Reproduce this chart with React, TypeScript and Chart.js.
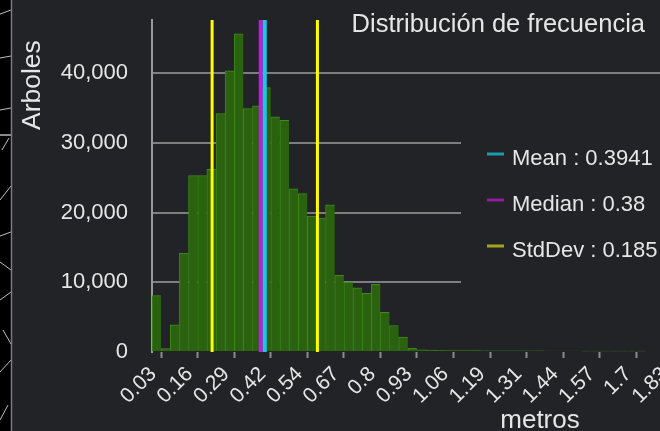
import React, { useEffect, useRef } from 'react';
import { Chart, registerables } from 'chart.js';

Chart.register(...registerables);

const FONT = "'Liberation Sans', Arial, sans-serif";
const BG = '#222327';
const TEXT = '#e6e6e6';

// Histogram bins (metros)
const binStart = -0.0021;
const binWidth = 0.0321;
const binCounts = [
  8100, 500, 3900, 14200, 25300, 25300, 26200, 34200, 40300, 45600,
  34900, 35300, 37900, 33700, 33200, 23400, 22700, 19500, 19200, 21100,
  11000, 10000, 9200, 8400, 9700, 5700, 3800, 2150, 520, 300,
  260, 240, 220, 210, 200, 190, 180, 170, 170, 160,
  160, 150, 150, 140, 140, 130, 130, 120, 120, 120,
  110, 110, 100, 100,
];

const xMin = binStart;
const xMax = 1.9937;
const xTickValues = [
  0.03, 0.1584, 0.2868, 0.4152, 0.5436, 0.672, 0.8004, 0.9288,
  1.0572, 1.1856, 1.314, 1.4424, 1.5708, 1.6992, 1.8276,
];
const xTickLabels = [
  '0.03', '0.16', '0.29', '0.42', '0.54', '0.67', '0.8', '0.93',
  '1.06', '1.19', '1.31', '1.44', '1.57', '1.7', '1.83',
];
const yTickValues = [0, 10000, 20000, 30000, 40000];
const yMax = 47600;

const statMean = 0.3941;
const statMedian = 0.38;
const statStdDev = 0.185;

const chartTitle = 'Distribución de frecuencia';
const yAxisTitle = 'Arboles';
const xAxisTitle = 'metros';
const legendLabels = ['Mean : 0.3941', 'Median : 0.38', 'StdDev : 0.185'];
const legendColors = ['#1e9cae', '#8e1e9e', '#a3a31c'];

const statLines = [
  { value: statMean - statStdDev, color: '#ffff00', width: 3 },
  { value: statMean + statStdDev, color: '#ffff00', width: 3 },
  { value: statMedian, color: '#c01ce0', width: 4 },
  { value: statMean, color: '#1cc6e6', width: 4 },
];

const decorPlugin = {
  id: 'decor',
  beforeDraw(chart: any) {
    const { ctx, width, height } = chart;
    ctx.save();
    ctx.fillStyle = BG;
    ctx.fillRect(0, 0, width, height);
    // map strip on the left
    ctx.fillStyle = '#000000';
    ctx.fillRect(0, 0, 11, height);
    ctx.strokeStyle = 'rgba(225,225,225,0.85)';
    ctx.lineWidth = 1;
    const segs = [
      [0, 14, 11, 10], [0, 58, 11, 56], [0, 110, 11, 108],
      [2, 150, 9, 138], [0, 200, 11, 186], [0, 236, 11, 232],
      [0, 262, 11, 270], [0, 300, 11, 292], [3, 330, 11, 344],
      [0, 372, 11, 360], [0, 420, 8, 405],
    ];
    for (const s of segs) {
      ctx.beginPath();
      ctx.moveTo(s[0], s[1]);
      ctx.lineTo(s[2], s[3]);
      ctx.stroke();
    }
    ctx.strokeStyle = '#8a8a8a';
    ctx.lineWidth = 2;
    ctx.beginPath();
    ctx.moveTo(0, 135);
    ctx.lineTo(11, 135);
    ctx.stroke();
    ctx.lineWidth = 1.5;
    ctx.strokeStyle = '#7c7c7c';
    ctx.beginPath();
    ctx.moveTo(11.5, 0);
    ctx.lineTo(11.5, height);
    ctx.stroke();
    ctx.restore();
  },
  afterDatasetsDraw(chart: any) {
    const { ctx, chartArea, scales } = chart;
    const xs = scales.x;
    ctx.save();
    for (const s of statLines) {
      const px = xs.getPixelForValue(s.value);
      ctx.strokeStyle = s.color;
      ctx.lineWidth = s.width;
      ctx.beginPath();
      ctx.moveTo(px, chartArea.top);
      ctx.lineTo(px, chartArea.bottom);
      ctx.stroke();
    }
    // legend panel
    ctx.fillStyle = BG;
    ctx.fillRect(461, 118, chart.width - 461, 174);
    ctx.font = `22px ${FONT}`;
    ctx.textBaseline = 'alphabetic';
    ctx.textAlign = 'left';
    legendLabels.forEach((label, i) => {
      const yy = 154 + i * 46;
      ctx.strokeStyle = legendColors[i];
      ctx.lineWidth = 3;
      ctx.beginPath();
      ctx.moveTo(487, yy);
      ctx.lineTo(504, yy);
      ctx.stroke();
      ctx.fillStyle = TEXT;
      ctx.fillText(label, 512, yy + 11);
    });
    // title
    ctx.font = `25.5px ${FONT}`;
    ctx.textAlign = 'right';
    ctx.fillText(chartTitle, 645, 32);
    // axis titles
    ctx.font = `26px ${FONT}`;
    ctx.textAlign = 'center';
    ctx.fillText(xAxisTitle, 540, 428);
    ctx.translate(40, 130);
    ctx.rotate(-Math.PI / 2);
    ctx.font = `26.5px ${FONT}`;
    ctx.textAlign = 'left';
    ctx.fillText(yAxisTitle, 0, 0);
    ctx.restore();
  },
};

export default function App() {
  const ref = useRef<HTMLCanvasElement | null>(null);
  useEffect(() => {
    const canvas = ref.current;
    if (!canvas) return;
    const chart = new Chart(canvas, {
      type: 'bar',
      data: {
        datasets: [
          {
            label: 'Arboles',
            data: binCounts.map((c, i) => ({ x: binStart + (i + 0.5) * binWidth, y: c })),
            backgroundColor: '#2b620f',
            borderColor: '#3f8a18',
            borderWidth: { left: 1, top: 1, right: 0, bottom: 0 },
            borderSkipped: false,
            barPercentage: 1,
            categoryPercentage: 1,
          } as any,
        ],
      },
      options: {
        animation: false,
        responsive: false,
        devicePixelRatio: 1,
        layout: { padding: { top: 20, left: 0, right: 0, bottom: 0 } },
        plugins: { legend: { display: false }, tooltip: { enabled: false }, title: { display: false } },
        scales: {
          x: {
            type: 'linear',
            min: xMin,
            max: xMax,
            offset: false,
            grid: {
              display: true,
              offset: false,
              drawOnChartArea: false,
              drawTicks: true,
              tickLength: 6,
              tickWidth: 2,
              tickColor: '#8c8c8c',
            },
            border: { display: false },
            ticks: {
              autoSkip: false,
              minRotation: 45,
              maxRotation: 45,
              color: TEXT,
              font: { family: FONT, size: 21 },
              padding: 4,
              labelOffset: -8,
              callback: (_v: any, i: number) => xTickLabels[i],
            },
            afterBuildTicks: (s: any) => {
              s.ticks = xTickValues.map((value) => ({ value }));
            },
            afterFit: (s: any) => {
              s.height = 79;
              s.paddingLeft = 0;
              s.paddingRight = 0;
            },
          } as any,
          y: {
            min: 0,
            max: yMax,
            grid: {
              color: (c: any) => (c.tick && c.tick.value === 0 ? 'rgba(0,0,0,0)' : '#7e7e7e'),
              lineWidth: 2,
              drawTicks: false,
            },
            border: { display: true, color: '#9a9a9a', width: 2 },
            ticks: {
              padding: 24,
              color: TEXT,
              font: { family: FONT, size: 22 },
              callback: (v: any) => Number(v).toLocaleString('en-US'),
            },
            afterBuildTicks: (s: any) => {
              s.ticks = yTickValues.map((value) => ({ value }));
            },
            afterFit: (s: any) => {
              s.width = 152;
              s.paddingTop = 0;
              s.paddingBottom = 0;
            },
          } as any,
        },
      },
      plugins: [decorPlugin],
    });
    return () => chart.destroy();
  }, []);
  return (
    <div
      style={{
        position: 'fixed',
        left: 0,
        top: 0,
        width: 660,
        height: 431,
        overflow: 'hidden',
        background: BG,
      }}
    >
      <canvas ref={ref} width={720} height={431} style={{ display: 'block', width: 720, height: 431 }} />
    </div>
  );
}
